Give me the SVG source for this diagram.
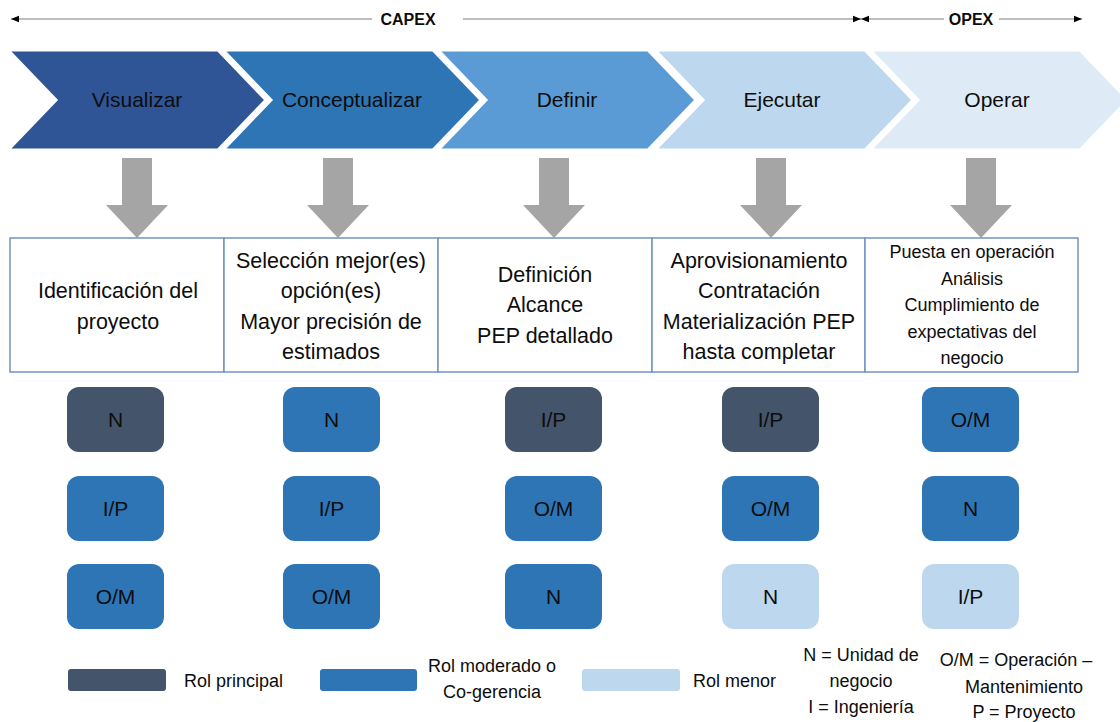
<svg xmlns="http://www.w3.org/2000/svg" width="1120" height="722" viewBox="0 0 1120 722">
  <style>
    text { font-family: "Liberation Sans", Arial, sans-serif; fill: #0d0d0d; }
    .hdr { font-size: 16px; font-weight: bold; text-anchor: middle; }
    .phase { font-size: 21px; text-anchor: middle; }
    .desc { font-size: 21.5px; text-anchor: middle; }
    .desc-sm { font-size: 18px; text-anchor: middle; }
    .role { font-size: 21px; text-anchor: middle; }
    .leg { font-size: 18px; }
    .legc { font-size: 18px; text-anchor: middle; }
    .chev { stroke: #ffffff; stroke-width: 3; stroke-linejoin: miter; }
    .down { fill: #a5a5a5; }
    .cell { fill: #ffffff; stroke: #7094c3; stroke-width: 1.5; }
    .r-main { fill: #44546a; }
    .r-mod { fill: #2e75b6; }
    .r-min { fill: #bdd7ee; }
    .span { stroke: #7f7f7f; stroke-width: 1.2; fill: none; }
  </style>
  <defs>
    <marker id="tip" viewBox="0 0 10 10" refX="10" refY="5" markerWidth="8" markerHeight="8" markerUnits="userSpaceOnUse" orient="auto-start-reverse">
      <path d="M0,1 L10,5 L0,9 Z" fill="#000000"/>
    </marker>
    <g id="downArrow">
      <path d="M-15,0 L15,0 L15,47 L31,47 L0,80 L-31,47 L-15,47 Z"/>
    </g>
  </defs>

  <rect width="1120" height="722" fill="#ffffff"/>

  <!-- CAPEX / OPEX spans -->
  <g id="connectors">
    <line class="span" x1="11" y1="19" x2="372" y2="19" marker-start="url(#tip)"/>
    <line class="span" x1="463" y1="19" x2="861" y2="19" marker-end="url(#tip)"/>
    <line class="span" x1="861" y1="19" x2="944" y2="19" marker-start="url(#tip)"/>
    <line class="span" x1="999" y1="19" x2="1082" y2="19" marker-end="url(#tip)"/>
  </g>
  <g id="capex-label"><text class="hdr" x="408" y="25">CAPEX</text></g>
  <g id="opex-label"><text class="hdr" x="971" y="25">OPEX</text></g>

  <!-- Phase chevrons -->
  <g id="phase-visualizar">
    <polygon class="chev" fill="#2f5597" points="8,50 218,50 266,100 218,150 8,150 56,100"/>
    <text class="phase" x="137" y="107">Visualizar</text>
  </g>
  <g id="phase-conceptualizar">
    <polygon class="chev" fill="#2e75b6" points="223,50 433,50 481,100 433,150 223,150 271,100"/>
    <text class="phase" x="352" y="107">Conceptualizar</text>
  </g>
  <g id="phase-definir">
    <polygon class="chev" fill="#5b9bd5" points="438,50 648,50 696,100 648,150 438,150 486,100"/>
    <text class="phase" x="567" y="107">Definir</text>
  </g>
  <g id="phase-ejecutar">
    <polygon class="chev" fill="#bdd7ee" points="655,50 865,50 913,100 865,150 655,150 703,100"/>
    <text class="phase" x="782" y="107">Ejecutar</text>
  </g>
  <g id="phase-operar">
    <polygon class="chev" fill="#deebf7" points="870,50 1080,50 1128,100 1080,150 870,150 918,100"/>
    <text class="phase" x="997" y="107">Operar</text>
  </g>

  <!-- Down arrows -->
  <g id="down-arrows" class="down">
    <use href="#downArrow" x="137" y="158"/>
    <use href="#downArrow" x="338" y="158"/>
    <use href="#downArrow" x="554" y="158"/>
    <use href="#downArrow" x="771" y="158"/>
    <use href="#downArrow" x="981" y="158"/>
  </g>

  <!-- Activity cells -->
  <g id="cell-1">
    <rect class="cell" x="10" y="238" width="214" height="134"/>
    <text class="desc" x="118" y="298">Identificación del</text>
    <text class="desc" x="118" y="329">proyecto</text>
  </g>
  <g id="cell-2">
    <rect class="cell" x="224" y="238" width="214" height="134"/>
    <text class="desc" x="331" y="268">Selección mejor(es)</text>
    <text class="desc" x="331" y="298">opción(es)</text>
    <text class="desc" x="331" y="329">Mayor precisión de</text>
    <text class="desc" x="331" y="359">estimados</text>
  </g>
  <g id="cell-3">
    <rect class="cell" x="438" y="238" width="214" height="134"/>
    <text class="desc" x="545" y="282">Definición</text>
    <text class="desc" x="545" y="312">Alcance</text>
    <text class="desc" x="545" y="343">PEP detallado</text>
  </g>
  <g id="cell-4">
    <rect class="cell" x="652" y="238" width="213" height="134"/>
    <text class="desc" x="759" y="268">Aprovisionamiento</text>
    <text class="desc" x="759" y="298">Contratación</text>
    <text class="desc" x="759" y="329">Materialización PEP</text>
    <text class="desc" x="759" y="359">hasta completar</text>
  </g>
  <g id="cell-5">
    <rect class="cell" x="865" y="238" width="213" height="134"/>
    <text class="desc-sm" x="972" y="258">Puesta en operación</text>
    <text class="desc-sm" x="972" y="285">Análisis</text>
    <text class="desc-sm" x="972" y="311">Cumplimiento de</text>
    <text class="desc-sm" x="972" y="338">expectativas del</text>
    <text class="desc-sm" x="972" y="364">negocio</text>
  </g>

  <!-- Role boxes, column 1 -->
  <g id="role-1-1"><rect class="r-main" x="67" y="387" width="97" height="65" rx="12"/><text class="role" x="115.5" y="427">N</text></g>
  <g id="role-1-2"><rect class="r-mod" x="67" y="476" width="97" height="65" rx="12"/><text class="role" x="115.5" y="516">I/P</text></g>
  <g id="role-1-3"><rect class="r-mod" x="67" y="564" width="97" height="65" rx="12"/><text class="role" x="115.5" y="604">O/M</text></g>
  <!-- column 2 -->
  <g id="role-2-1"><rect class="r-mod" x="283" y="387" width="97" height="65" rx="12"/><text class="role" x="331.5" y="427">N</text></g>
  <g id="role-2-2"><rect class="r-mod" x="283" y="476" width="97" height="65" rx="12"/><text class="role" x="331.5" y="516">I/P</text></g>
  <g id="role-2-3"><rect class="r-mod" x="283" y="564" width="97" height="65" rx="12"/><text class="role" x="331.5" y="604">O/M</text></g>
  <!-- column 3 -->
  <g id="role-3-1"><rect class="r-main" x="505" y="387" width="97" height="65" rx="12"/><text class="role" x="553.5" y="427">I/P</text></g>
  <g id="role-3-2"><rect class="r-mod" x="505" y="476" width="97" height="65" rx="12"/><text class="role" x="553.5" y="516">O/M</text></g>
  <g id="role-3-3"><rect class="r-mod" x="505" y="564" width="97" height="65" rx="12"/><text class="role" x="553.5" y="604">N</text></g>
  <!-- column 4 -->
  <g id="role-4-1"><rect class="r-main" x="722" y="387" width="97" height="65" rx="12"/><text class="role" x="770.5" y="427">I/P</text></g>
  <g id="role-4-2"><rect class="r-mod" x="722" y="476" width="97" height="65" rx="12"/><text class="role" x="770.5" y="516">O/M</text></g>
  <g id="role-4-3"><rect class="r-min" x="722" y="564" width="97" height="65" rx="12"/><text class="role" x="770.5" y="604">N</text></g>
  <!-- column 5 -->
  <g id="role-5-1"><rect class="r-mod" x="922" y="387" width="97" height="65" rx="12"/><text class="role" x="970.5" y="427">O/M</text></g>
  <g id="role-5-2"><rect class="r-mod" x="922" y="476" width="97" height="65" rx="12"/><text class="role" x="970.5" y="516">N</text></g>
  <g id="role-5-3"><rect class="r-min" x="922" y="564" width="97" height="65" rx="12"/><text class="role" x="970.5" y="604">I/P</text></g>

  <!-- Legend -->
  <g id="legend-main">
    <rect class="r-main" x="68" y="669" width="98" height="22" rx="3"/>
    <text class="leg" x="184" y="687">Rol principal</text>
  </g>
  <g id="legend-moderate">
    <rect class="r-mod" x="320" y="669" width="97" height="22" rx="3"/>
    <text class="legc" x="492" y="672">Rol moderado o</text>
    <text class="legc" x="492" y="698">Co-gerencia</text>
  </g>
  <g id="legend-minor">
    <rect class="r-min" x="582" y="669" width="98" height="22" rx="3"/>
    <text class="leg" x="693" y="687">Rol menor</text>
  </g>
  <g id="legend-codes-1">
    <text class="legc" x="861" y="661">N = Unidad de</text>
    <text class="legc" x="861" y="687">negocio</text>
    <text class="legc" x="861" y="713">I = Ingeniería</text>
  </g>
  <g id="legend-codes-2">
    <text class="legc" x="1016" y="666">O/M = Operación –</text>
    <text class="legc" x="1024" y="693">Mantenimiento</text>
    <text class="legc" x="1024" y="718">P = Proyecto</text>
  </g>
</svg>
